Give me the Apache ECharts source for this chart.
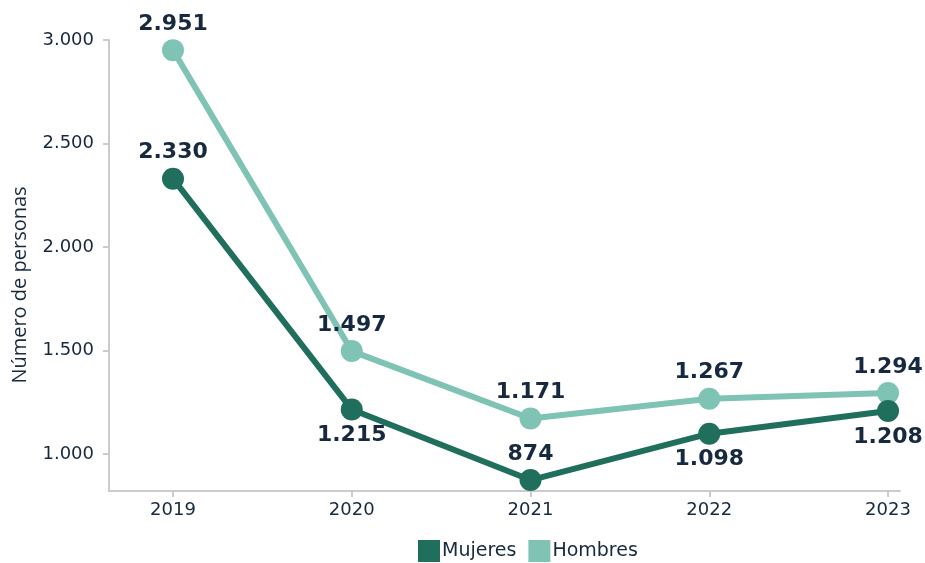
<!DOCTYPE html>
<html>
<head>
<meta charset="utf-8">
<script src="https://cdn.jsdelivr.net/npm/echarts@6/dist/echarts.min.js"></script>
<style>html,body{margin:0;padding:0;background:#fff}#c{width:925px;height:563px}</style>
</head>
<body>
<div id="c"></div>
<script>
const years = [2019, 2020, 2021, 2022, 2023];
const mujeres = [2330, 1215, 874, 1098, 1208];
const hombres = [2951, 1497, 1171, 1267, 1294];
const mujeresLabelPos = ['top', 'bottom', 'top', 'bottom', 'bottom'];
const yTicks = [1000, 1500, 2000, 2500, 3000];

const fmt = v => String(v).replace(/\B(?=(\d{3})+(?!\d))/g, '.');
const txt = '#16293f';
const font = 'DejaVu Sans';

const chart = echarts.init(document.getElementById('c'));
chart.setOption({
  animation: false,
  textStyle: { fontFamily: font },
  grid: { left: 109, right: 25, top: 40, bottom: 72, outerBoundsMode: 'none', containLabel: false },
  graphic: [{
    type: 'text', x: 20, y: 285, rotation: Math.PI / 2,
    style: { text: 'Número de personas', fill: txt, font: '20px "Open Sans"', align: 'center', verticalAlign: 'middle' }
  }],
  legend: {
    data: ['Mujeres', 'Hombres'],
    bottom: -4, left: 413,
    icon: 'rect', itemWidth: 22, itemHeight: 22, itemGap: 12,
    textStyle: { fontSize: 19, color: txt, fontFamily: font, padding: [0, 0, 0, -3] }
  },
  xAxis: {
    type: 'value', min: 2018.642, max: 2023.067,
    splitLine: { show: false },
    axisLine: { show: true, lineStyle: { color: '#cccccc', width: 2 } },
    axisTick: { show: true, length: 6, customValues: years, lineStyle: { color: '#cccccc', width: 2 } },
    axisLabel: { customValues: years, fontSize: 18, color: txt, margin: 10, formatter: v => String(v) }
  },
  yAxis: {
    type: 'value', min: 821, max: 3000,
    splitLine: { show: false },
    axisLine: { show: true, lineStyle: { color: '#cccccc', width: 2 } },
    axisTick: { show: true, length: 6, customValues: yTicks, lineStyle: { color: '#cccccc', width: 2 } },
    axisLabel: { customValues: yTicks, fontSize: 18, color: txt, margin: 15, formatter: v => fmt(v) }
  },
  series: [
    {
      name: 'Hombres', type: 'line',
      data: years.map((y, i) => [y, hombres[i]]),
      symbol: 'circle', symbolSize: 22,
      lineStyle: { width: 6, color: '#7fc3b4' },
      itemStyle: { color: '#7fc3b4' },
      label: { show: true, position: 'top', distance: 4, fontSize: 22, fontWeight: 'bold', color: txt, fontFamily: font, formatter: p => fmt(p.value[1]) }
    },
    {
      name: 'Mujeres', type: 'line',
      data: years.map((y, i) => ({ value: [y, mujeres[i]], label: { position: mujeresLabelPos[i] } })),
      symbol: 'circle', symbolSize: 22,
      lineStyle: { width: 6, color: '#1f6f5c' },
      itemStyle: { color: '#1f6f5c' },
      label: { show: true, distance: 4, fontSize: 22, fontWeight: 'bold', color: txt, fontFamily: font, formatter: p => fmt(p.value[1]) }
    }
  ]
});
</script>
</body>
</html>
